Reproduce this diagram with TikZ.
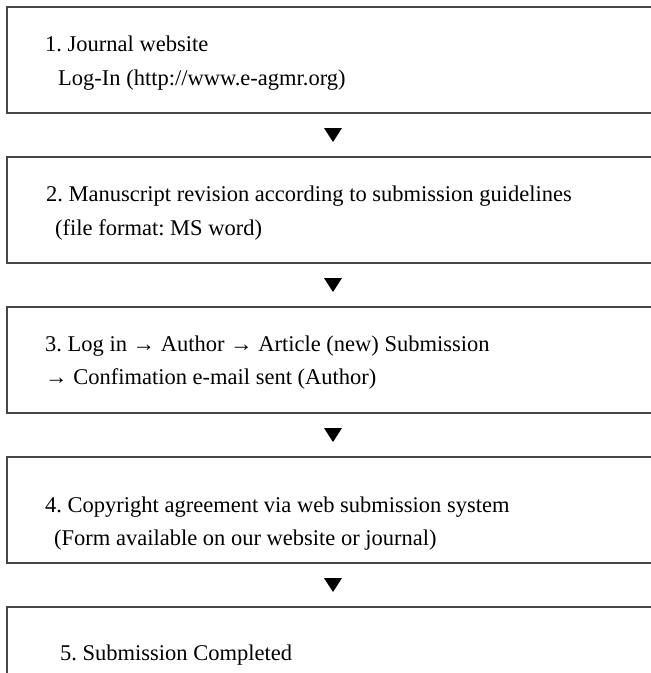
\documentclass[tikz,border=0pt]{standalone}
\usepackage{fontspec}
\setmainfont{Liberation Serif}
\frenchspacing
\usetikzlibrary{positioning,calc}
\begin{document}
\begin{tikzpicture}[x=1pt,y=-1pt,
    stepbox/.style={draw=black!72,line width=1.4pt,minimum width=652pt,minimum height=106pt,inner sep=0pt},
    steptext/.style={anchor=west,inner sep=0pt,text height=15pt,text depth=4pt,font=\fontsize{22.5}{26}\selectfont}]
    \useasboundingbox (0,0) rectangle (651,673);
    \clip (0,0) rectangle (651,673);
    \foreach \i in {1,...,5}
        \node [stepbox] (b\i) at (333,{60+150*(\i-1)}) {};
    \foreach \i/\j in {1/2,2/3,3/4,4/5}
        \fill ($(b\i.south)!0.5!(b\j.north)$) ++(-9,-7) -- ++(18,0) -- ++(-9,14) -- cycle;
    \node [steptext] (t1a) at (45,46) {1. Journal website};
    \node [steptext] (t1b) at (58,80) {Log-In (http://www.e-agmr.org)};
    \node [steptext] (t2a) at (46,196) {2. Manuscript revision according to submission guidelines};
    \node [steptext] (t2b) at (55,230) {(file format: MS word)};
    \node [steptext] (t3a) at (45,346) {3. Log in → Author → Article (new) Submission};
    \node [steptext] (t3b) at (45,379) {→ Confimation e-mail sent (Author)};
    \node [steptext] (t4a) at (45,507) {4. Copyright agreement via web submission system};
    \node [steptext] (t4b) at (54,540) {(Form available on our website or journal)};
    \node [steptext] (t5a) at (60,655) {5. Submission Completed};
\end{tikzpicture}
\end{document}
